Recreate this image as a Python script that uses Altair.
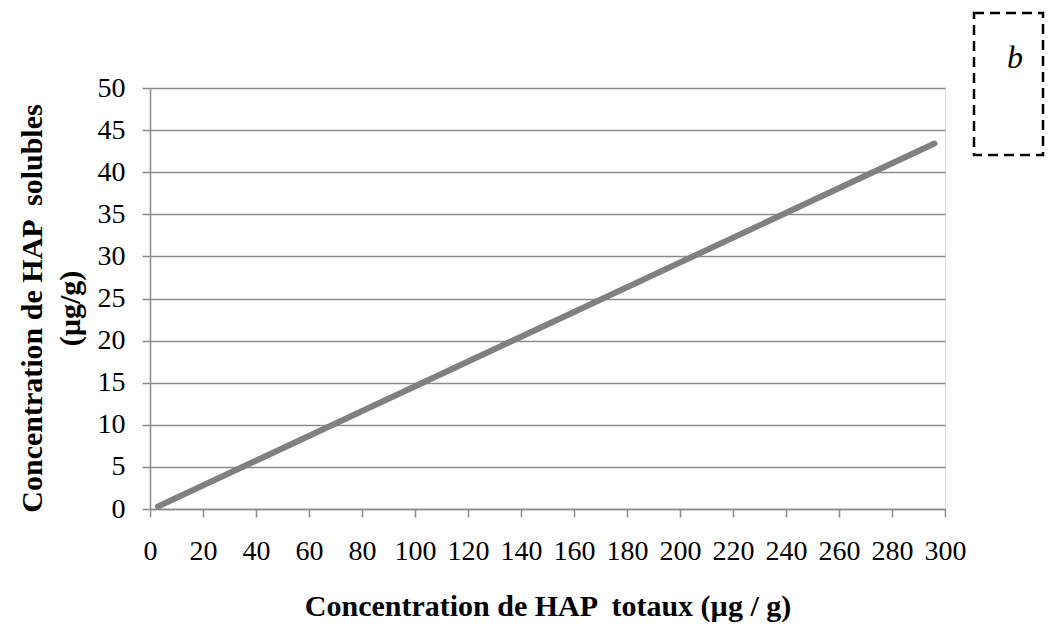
import altair as alt
import pandas as pd

x_totaux = [3, 296]
y_solubles = [0.3, 43.4]
x_ticks = list(range(0, 301, 20))
y_ticks = list(range(0, 51, 5))
box_label = ["b"]

df = pd.DataFrame({"x": x_totaux, "y": y_solubles})

W, H = 795, 421
FONT = "Liberation Serif"
GRAY = "#8a8a8a"
NB = "\u00a0"

line = alt.Chart(df).mark_line(color="#808080", strokeWidth=6, strokeCap="round").encode(
    x=alt.X("x:Q", scale=alt.Scale(domain=[0, 300], nice=False),
            axis=alt.Axis(values=x_ticks, grid=False, domain=True, domainColor=GRAY,
                          domainWidth=1.5, tickColor=GRAY, tickWidth=1.5, tickSize=8,
                          labelFont=FONT, labelFontSize=28, labelColor="black",
                          labelPadding=20, labelFlush=False,
                          title="Concentration de HAP " + NB + "totaux (µg / g)",
                          titleFont=FONT, titleFontSize=30, titleFontWeight="bold",
                          titleColor="black", titlePadding=26)),
    y=alt.Y("y:Q", scale=alt.Scale(domain=[0, 50], nice=False),
            axis=alt.Axis(values=y_ticks, grid=True, gridColor=GRAY, gridWidth=1.5,
                          domain=True, domainColor=GRAY, domainWidth=1.5,
                          tickColor=GRAY, tickWidth=1.5, tickSize=8,
                          labelFont=FONT, labelFontSize=28, labelColor="black",
                          labelPadding=17, labelFlush=False,
                          title=["Concentration de HAP " + NB + "solubles", "(µg/g)"],
                          titleFont=FONT, titleFontSize=30, titleFontWeight="bold",
                          titleColor="black", titlePadding=12, titleLineHeight=38,
                          titleY=220)),
)

box = alt.Chart(pd.DataFrame({"t": box_label})).mark_rect(
    fill="white", stroke="black", strokeWidth=2.5, strokeDash=[10, 6], clip=False
).encode(
    x=alt.value(824), x2=alt.value(893), y=alt.value(-75), y2=alt.value(67)
)

label = alt.Chart(pd.DataFrame({"t": box_label})).mark_text(
    font=FONT, fontSize=32, fontStyle="italic", color="black", clip=False
).encode(
    x=alt.value(865), y=alt.value(-30), text="t:N"
)

chart = alt.layer(line, box, label).properties(
    width=W, height=H,
    autosize=alt.AutoSizeParams(type="none"),
    padding={"left": 142, "top": 80, "right": 100, "bottom": 114},
).configure_view(stroke=None).configure(background="white")

chart.save("out.html", embed_options={"renderer": "svg", "actions": False})
